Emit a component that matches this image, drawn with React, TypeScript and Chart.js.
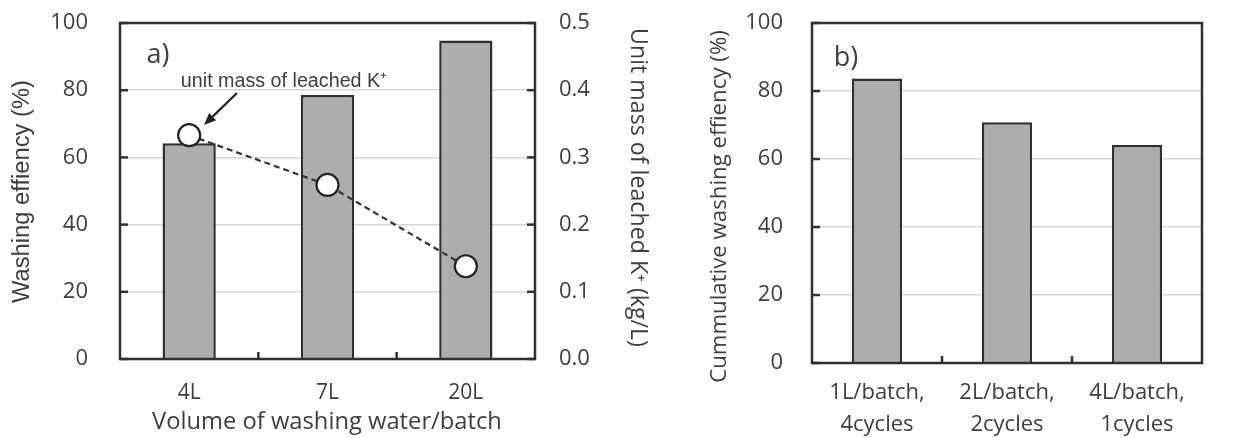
import { useEffect, useRef } from 'react';
import { Chart, registerables } from 'chart.js';

Chart.register(...registerables);

// ---------- data ----------
const volumeCategories = ['4L', '7L', '20L'];
const washingEfficiency = [64.2, 78.6, 94.8];
const unitMassLeached = [0.333, 0.259, 0.138];
const efficiencyRange = [0, 100];
const efficiencyStep = 20;
const massRange = [0, 0.5];
const massStep = 0.1;

const batchCategories = [
  ['1L/batch,', '4cycles'],
  ['2L/batch,', '2cycles'],
  ['4L/batch,', '1cycles'],
];
const cumulativeEfficiency = [83.7, 70.8, 64.1];

// ---------- styles ----------
const TEXT = '#3e3e3e';
const FRAME = '#303030';
const GRID = '#d6d6d6';
const BAR_FILL = '#adadae';
const TICK_FONT = { family: '"Open Sans", sans-serif', size: 22 };

type Txt = {
  text: string;
  x: number;
  y: number;
  family: string;
  size: number;
  width?: number;
  rot?: number;
};

function drawText(ctx: CanvasRenderingContext2D, t: Txt) {
  ctx.save();
  ctx.translate(t.x, t.y);
  ctx.rotate(t.rot || 0);
  let size = t.size;
  ctx.font = `${size}px ${t.family}`;
  if (t.width) {
    const w = ctx.measureText(t.text).width;
    size = (size * t.width) / w;
    ctx.font = `${size}px ${t.family}`;
  }
  ctx.fillStyle = TEXT;
  ctx.textAlign = 'center';
  ctx.textBaseline = 'middle';
  ctx.fillText(t.text, 0, 0);
  ctx.restore();
}

function fixSize(prop: 'width' | 'height', value: number) {
  return (s: any) => {
    s[prop] = value;
    s.paddingTop = 0;
    s.paddingBottom = 0;
    s.paddingLeft = 0;
    s.paddingRight = 0;
  };
}

function decorPlugin(texts: Txt[], hasRight: boolean, extra?: (ctx: CanvasRenderingContext2D) => void) {
  return {
    id: 'decor' + Math.random().toString(36).slice(2),
    afterDatasetsDraw(chart: any) {
      const ctx: CanvasRenderingContext2D = chart.ctx;
      const { left, right, top, bottom } = chart.chartArea;
      ctx.save();
      ctx.strokeStyle = FRAME;
      ctx.lineWidth = 2.5;
      const y = chart.scales.y;
      y.ticks.forEach((t: any) => {
        const py = y.getPixelForValue(t.value);
        ctx.beginPath();
        ctx.moveTo(left, py);
        ctx.lineTo(left + 8, py);
        ctx.stroke();
        if (hasRight) {
          ctx.beginPath();
          ctx.moveTo(right, py);
          ctx.lineTo(right - 8, py);
          ctx.stroke();
        }
      });
      const x = chart.scales.x;
      const n = chart.data.labels.length;
      for (let i = 1; i < n; i++) {
        const px = (x.getPixelForValue(i - 1) + x.getPixelForValue(i)) / 2;
        ctx.beginPath();
        ctx.moveTo(px, bottom);
        ctx.lineTo(px, bottom - 7);
        ctx.stroke();
      }
      ctx.strokeRect(left, top, right - left, bottom - top);
      ctx.restore();
    },
    afterDraw(chart: any) {
      const ctx: CanvasRenderingContext2D = chart.ctx;
      texts.forEach((t) => drawText(ctx, t));
      if (extra) extra(ctx);
    },
  };
}

function drawArrow(ctx: CanvasRenderingContext2D, x1: number, y1: number, x2: number, y2: number) {
  ctx.save();
  ctx.strokeStyle = '#222';
  ctx.fillStyle = '#222';
  ctx.lineWidth = 2.2;
  const ang = Math.atan2(y2 - y1, x2 - x1);
  const hl = 12;
  const bx = x2 - hl * Math.cos(ang);
  const by = y2 - hl * Math.sin(ang);
  ctx.beginPath();
  ctx.moveTo(x1, y1);
  ctx.lineTo(bx, by);
  ctx.stroke();
  ctx.beginPath();
  ctx.moveTo(x2, y2);
  ctx.lineTo(bx + 5 * Math.sin(ang), by - 5 * Math.cos(ang));
  ctx.lineTo(bx - 5 * Math.sin(ang), by + 5 * Math.cos(ang));
  ctx.closePath();
  ctx.fill();
  ctx.restore();
}

export default function App() {
  const refA = useRef<HTMLCanvasElement>(null);
  const refB = useRef<HTMLCanvasElement>(null);

  useEffect(() => {
    const sans = '"Open Sans", sans-serif';
    const arial = '"Liberation Sans", Arial, sans-serif';

    const chartA = new Chart(refA.current!, {
      type: 'bar',
      data: {
        labels: volumeCategories,
        datasets: [
          {
            type: 'line',
            data: unitMassLeached,
            yAxisID: 'y1',
            order: 0,
            borderColor: '#333',
            borderWidth: 2.2,
            borderDash: [6, 4],
            pointRadius: 11,
            pointBackgroundColor: '#fff',
            pointBorderColor: '#222',
            pointBorderWidth: 2.2,
          } as any,
          {
            type: 'bar',
            data: washingEfficiency,
            yAxisID: 'y',
            order: 1,
            backgroundColor: BAR_FILL,
            borderColor: FRAME,
            borderWidth: 2.5,
            barPercentage: 0.385,
            categoryPercentage: 1,
          },
        ],
      },
      options: {
        responsive: false,
        animation: false,
        layout: { padding: { top: 23, left: 0, right: 0, bottom: 0 } },
        plugins: { legend: { display: false }, tooltip: { enabled: false } },
        scales: {
          x: {
            offset: true,
            grid: { display: false, drawTicks: false },
            border: { display: false },
            ticks: { font: { ...TICK_FONT, size: 21 }, color: TEXT, padding: 21, maxRotation: 0 },
            afterFit: fixSize('height', 79),
          },
          y: {
            position: 'left',
            min: efficiencyRange[0],
            max: efficiencyRange[1],
            ticks: { stepSize: efficiencyStep, font: TICK_FONT, color: TEXT, padding: 32 },
            grid: { color: GRID, lineWidth: 1.5, drawTicks: false },
            border: { display: false },
            afterFit: fixSize('width', 120),
          },
          y1: {
            position: 'right',
            min: massRange[0],
            max: massRange[1],
            ticks: {
              stepSize: massStep,
              font: TICK_FONT,
              color: TEXT,
              padding: 24,
              callback: (v: any) => Number(v).toFixed(1),
            },
            grid: { display: false, drawTicks: false },
            border: { display: false },
            afterFit: fixSize('width', 145),
          },
        },
      },
      plugins: [
        decorPlugin(
          [
            { text: 'Washing effiency (%)', x: 22, y: 191.5, family: arial, size: 20, width: 223, rot: -Math.PI / 2 },
            { text: 'Unit mass of leached K\u207A (kg/L)', x: 638, y: 187.5, family: sans, size: 19, width: 319, rot: Math.PI / 2 },
            { text: 'Volume of washing water/batch', x: 327, y: 422, family: sans, size: 20, width: 350 },
            { text: 'unit mass of leached K\u207A', x: 284, y: 82, family: arial, size: 15, width: 206 },
            { text: 'a)', x: 158, y: 55, family: sans, size: 27 },
          ],
          true,
          (ctx) => drawArrow(ctx, 237, 93, 204, 125)
        ) as any,
      ],
    });

    const chartB = new Chart(refB.current!, {
      type: 'bar',
      data: {
        labels: batchCategories,
        datasets: [
          {
            data: cumulativeEfficiency,
            backgroundColor: BAR_FILL,
            borderColor: FRAME,
            borderWidth: 2.5,
            barPercentage: 0.385,
            categoryPercentage: 1,
          },
        ],
      },
      options: {
        responsive: false,
        animation: false,
        layout: { padding: { top: 23, left: 0, right: 53, bottom: 0 } },
        plugins: { legend: { display: false }, tooltip: { enabled: false } },
        scales: {
          x: {
            offset: true,
            grid: { display: false, drawTicks: false },
            border: { display: false },
            ticks: { font: { ...TICK_FONT, lineHeight: 1.45 }, color: TEXT, padding: 14, maxRotation: 0 },
            afterFit: fixSize('height', 75),
          },
          y: {
            position: 'left',
            min: efficiencyRange[0],
            max: efficiencyRange[1],
            ticks: { stepSize: efficiencyStep, font: TICK_FONT, color: TEXT, padding: 29 },
            grid: { color: GRID, lineWidth: 1.5, drawTicks: false },
            border: { display: false },
            afterFit: fixSize('width', 132),
          },
        },
      },
      plugins: [
        decorPlugin(
          [
            { text: 'Cummulative washing effiency (%)', x: 40, y: 206.5, family: sans, size: 20, width: 353, rot: -Math.PI / 2 },
            { text: 'b)', x: 166, y: 58, family: sans, size: 27 },
          ],
          false
        ) as any,
      ],
    });

    return () => {
      chartA.destroy();
      chartB.destroy();
    };
  }, []);

  return (
    <div style={{ position: 'fixed', left: 0, top: 0, width: 1255, height: 438, background: '#fff' }}>
      <canvas ref={refA} width={680} height={438} style={{ position: 'absolute', left: 0, top: 0 }} />
      <canvas ref={refB} width={575} height={438} style={{ position: 'absolute', left: 680, top: 0 }} />
    </div>
  );
}
